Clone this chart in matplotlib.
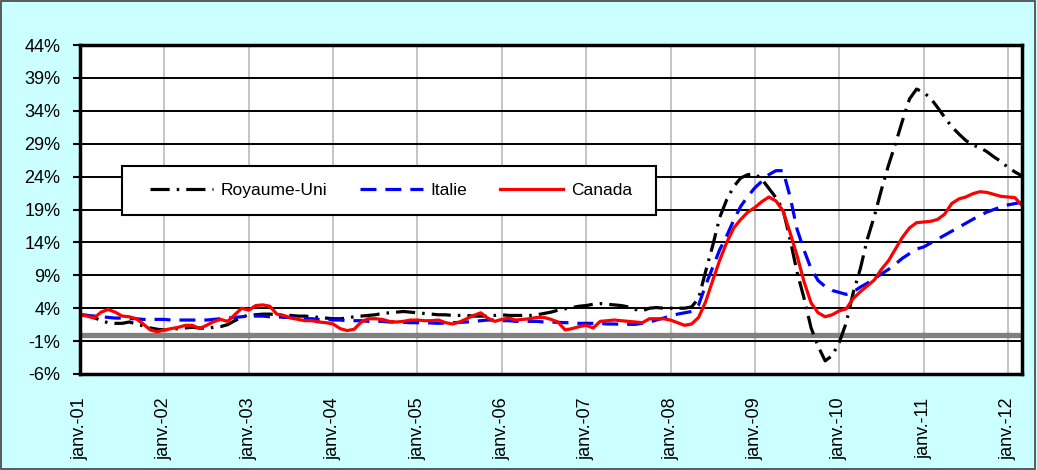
import matplotlib
matplotlib.use("Agg")
import matplotlib.pyplot as plt
from matplotlib.patches import Rectangle
import numpy as np

plt.rcParams['font.family'] = ['Liberation Sans', 'DejaVu Sans']

# Monthly series, janv. 2001 .. mars 2012 (% change)
royaume_uni = [
    3.0, 2.9, 2.6, 2.1, 1.8, 1.7, 1.7, 1.9, 1.6, 1.3, 1.0, 0.8,          # 2001
    0.7, 0.8, 0.9, 1.0, 1.1, 1.0, 0.9, 1.1, 1.2, 1.5, 2.1, 2.6,          # 2002
    3.0, 3.0, 3.1, 3.1, 3.0, 2.9, 2.9, 2.8, 2.8, 2.7, 2.6, 2.5,          # 2003
    2.4, 2.4, 2.5, 2.7, 2.8, 2.9, 3.0, 3.2, 3.3, 3.4, 3.5, 3.4,          # 2004
    3.3, 3.2, 3.1, 3.0, 3.0, 2.9, 2.9, 2.9, 2.8, 2.8, 2.8, 2.9,          # 2005
    3.0, 2.9, 2.9, 2.9, 2.9, 3.0, 3.2, 3.4, 3.7, 3.9, 4.1, 4.3,          # 2006
    4.4, 4.6, 4.7, 4.6, 4.5, 4.4, 4.2, 3.8, 3.6, 4.0, 4.1, 4.0,          # 2007
    4.0, 4.0, 4.0, 4.2, 5.5, 9.6, 13.5, 17.8, 20.5, 22.5, 23.8, 24.3,    # 2008
    24.4, 23.6, 22.2, 20.8, 19.0, 14.5, 9.5, 5.5, 1.0, -1.8, -4.0, -3.2, # 2009
    -1.2, 1.8, 6.4, 10.0, 14.5, 18.0, 22.0, 25.7, 29.0, 32.5, 35.8, 37.3, # 2010
    36.8, 35.9, 34.5, 33.0, 31.6, 30.5, 29.5, 28.8, 28.4, 27.8, 27.0, 26.3, # 2011
    25.4, 24.7, 24.1,                                                    # 2012
]
italie = [
    3.0, 2.9, 2.8, 2.7, 2.6, 2.5, 2.5, 2.4, 2.4, 2.3, 2.3, 2.3,
    2.3, 2.2, 2.2, 2.2, 2.2, 2.2, 2.2, 2.3, 2.4, 2.5, 2.6, 2.7,
    2.8, 2.8, 2.8, 2.7, 2.7, 2.6, 2.6, 2.5, 2.4, 2.4, 2.3, 2.3,
    2.2, 2.2, 2.1, 2.1, 2.1, 2.0, 2.0, 2.0, 1.9, 1.9, 1.85, 1.8,
    1.8, 1.8, 1.75, 1.7, 1.75, 1.8, 1.85, 1.9, 2.0, 2.1, 2.2, 2.2,
    2.1, 2.1, 2.0, 2.0, 2.0, 2.0, 1.9, 1.9, 1.85, 1.8, 1.8, 1.7,
    1.7, 1.7, 1.7, 1.6, 1.6, 1.55, 1.55, 1.55, 1.7, 1.9, 2.2, 2.5,
    2.8, 3.1, 3.3, 3.5, 4.5, 7.5, 10.2, 12.9, 15.0, 17.4, 19.5, 21.0,
    22.3, 23.3, 24.3, 24.9, 24.9, 21.0, 16.0, 12.8, 10.0, 8.2, 7.3, 6.7,
    6.4, 6.1, 6.5, 7.2, 7.8, 8.5, 9.2, 9.9, 10.7, 11.6, 12.3, 13.0,
    13.3, 13.9, 14.5, 15.1, 15.7, 16.3, 16.9, 17.5, 18.1, 18.6, 19.0, 19.4,
    19.7, 19.9, 20.1,
]
canada = [
    3.0, 2.8, 2.5, 3.4, 3.8, 3.4, 2.8, 2.7, 2.4, 1.6, 0.7, 0.4,
    0.7, 0.9, 1.1, 1.4, 1.4, 0.9, 1.4, 1.95, 2.3, 2.0, 3.0, 4.0,
    3.7, 4.4, 4.5, 4.3, 3.1, 2.9, 2.5, 2.3, 2.1, 2.1, 1.9, 1.8,
    1.6, 0.9, 0.6, 0.8, 1.9, 2.4, 2.4, 2.3, 2.0, 1.9, 2.0, 2.2,
    2.2, 2.1, 2.1, 2.2, 1.8, 1.6, 1.9, 2.4, 2.9, 3.3, 2.5, 2.0,
    2.3, 2.5, 2.2, 2.3, 2.4, 2.6, 2.6, 2.3, 1.9, 0.7, 0.9, 1.2,
    1.4, 1.0, 2.0, 2.1, 2.2, 2.1, 2.0, 1.9, 1.8, 2.4, 2.4, 2.4,
    2.2, 1.8, 1.4, 1.6, 2.6, 5.0, 8.2, 11.3, 14.0, 16.2, 17.5, 18.6,
    19.3, 20.2, 20.9, 20.3, 18.8, 15.5, 12.0, 8.0, 4.8, 3.3, 2.7, 3.0,
    3.6, 3.9, 5.5, 6.5, 7.4, 8.3, 9.9, 11.2, 13.0, 14.8, 16.2, 17.0,
    17.1, 17.2, 17.5, 18.3, 19.9, 20.6, 20.9, 21.4, 21.7, 21.6, 21.3, 21.0,
    20.9, 20.8, 19.6,
]
series_names = ["Royaume-Uni", "Italie", "Canada"]
year_labels = ["janv.-%02d" % y for y in range(1, 13)]
y_ticks = list(range(-6, 45, 5))

months = np.arange(len(canada))

W, H = 1037, 470
fig = plt.figure(figsize=(W / 100, H / 100), dpi=100)
fig.patch.set_facecolor("#CCFFFF")
fig.patches.append(Rectangle((0.001, 0.002), 0.997, 0.995, transform=fig.transFigure,
                             fill=False, edgecolor="#404040", linewidth=1.2))

ax = fig.add_axes([80 / W, 1 - 374 / H, (1022 - 80) / W, (374 - 45) / H])
ax.set_facecolor("white")

# grid
for yv in y_ticks:
    ax.axhline(yv, color="black", linewidth=1.4, zorder=1)
xt = months[::12]
for xv in xt:
    ax.axvline(xv, color="#C0C0C0", linewidth=1.3, zorder=0.5)
ax.axhline(0, color="#808080", linewidth=3.8, zorder=1.5)
ax.plot(xt, np.zeros(len(xt)), linestyle="none", marker="s", markersize=3.5,
        color="#808080", zorder=1.5)

l1, = ax.plot(months, royaume_uni, color="black", linewidth=2.3,
              dashes=(6, 2.2, 0.8, 2.2), zorder=3, label=series_names[0])
l2, = ax.plot(months, italie, color="#0000FF", linewidth=2.3,
              dashes=(5, 2.8), zorder=3, label=series_names[1])
l3, = ax.plot(months, canada, color="#FF0000", linewidth=2.3, zorder=3,
              label=series_names[2])

ax.set_xlim(0, 134)
ax.set_ylim(-6, 44)
ax.set_yticks(y_ticks)
ax.set_yticklabels(["%d%%" % v for v in y_ticks], fontsize=13)
ax.set_xticks(xt)
ax.set_xticklabels(year_labels, rotation=90, fontsize=13)
ax.tick_params(axis="x", length=0, pad=17)
ax.tick_params(axis="y", length=5, width=1.5, direction="out", pad=9)
for s in ax.spines.values():
    s.set_linewidth(2.5)
    s.set_color("black")
    s.set_zorder(4)

# legend frame
lx0, lx1, ly0, ly1 = 122, 656, 166, 215
fig.patches.append(Rectangle((lx0 / W, 1 - ly1 / H), (lx1 - lx0) / W, (ly1 - ly0) / H,
                             transform=fig.transFigure, facecolor="white",
                             edgecolor="black", linewidth=1.5, zorder=5))
leg = fig.legend(handles=[l1, l2, l3], ncol=3, loc="center",
                 bbox_to_anchor=((lx0 + lx1) / 2 / W + 0.002, 1 - (ly0 + ly1) / 2 / H),
                 fontsize=12.5, frameon=False,
                 handlelength=3.6, borderaxespad=0, borderpad=0,
                 columnspacing=1.9, handletextpad=0.45)
leg.set_zorder(6)

fig.savefig("out.png", dpi=100, facecolor=fig.get_facecolor())
